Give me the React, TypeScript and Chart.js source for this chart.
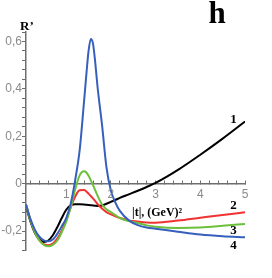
import React, { useEffect, useRef } from "react";
import { Chart, registerables } from "chart.js";

Chart.register(...registerables);

// |t| grid (GeV^2)
const T = [0.1, 0.2, 0.3, 0.4, 0.5, 0.6, 0.7, 0.8, 0.9, 1.0, 1.1, 1.2, 1.3, 1.4, 1.45, 1.5, 1.55, 1.6, 1.65, 1.7, 1.8, 1.9, 2.0, 2.1, 2.2, 2.4, 2.6, 2.8, 3.0, 3.5, 4.0, 4.5, 5.0];

// curve 1 (black)
const curve1 = [-0.095, -0.16, -0.208, -0.236, -0.246, -0.24, -0.218, -0.184, -0.145, -0.11, -0.092, -0.087, -0.087, -0.088, -0.089, -0.09, -0.091, -0.092, -0.093, -0.094, -0.092, -0.085, -0.077, -0.069, -0.06, -0.045, -0.03, -0.014, 0.003, 0.058, 0.122, 0.19, 0.262];
// curve 2 (red)
const curve2 = [-0.088, -0.155, -0.205, -0.238, -0.256, -0.26, -0.253, -0.232, -0.198, -0.155, -0.1, -0.055, -0.028, -0.027, -0.033, -0.042, -0.052, -0.063, -0.074, -0.086, -0.105, -0.12, -0.13, -0.138, -0.145, -0.155, -0.16, -0.164, -0.165, -0.156, -0.144, -0.132, -0.121];
// curve 3 (green)
const curve3 = [-0.088, -0.155, -0.205, -0.24, -0.258, -0.264, -0.258, -0.24, -0.205, -0.16, -0.1, -0.025, 0.035, 0.052, 0.047, 0.033, 0.014, -0.006, -0.028, -0.05, -0.088, -0.108, -0.12, -0.133, -0.145, -0.158, -0.166, -0.176, -0.182, -0.187, -0.185, -0.178, -0.17];
// curve 4 (blue)
const curve4 = [-0.088, -0.15, -0.195, -0.224, -0.239, -0.243, -0.236, -0.212, -0.18, -0.145, -0.085, 0.015, 0.14, 0.35, 0.46, 0.56, 0.61, 0.59, 0.51, 0.41, 0.25, 0.07, -0.03, -0.08, -0.115, -0.155, -0.175, -0.185, -0.19, -0.203, -0.215, -0.222, -0.226];

const seriesNames = ["1", "2", "3", "4"];
const seriesColors = ["#000000", "#f03232", "#6cc03c", "#3760bd"];
const curveLabelX = 4.74;
const curveLabelY = [0.27, -0.092, -0.198, -0.261];

// x-axis tick labels
const xLabelValues = [1, 2, 3, 4, 5];

const X_MIN = 0.1;
const X_MAX = 5;
const X_STEP = 0.2;
const Y_MIN = -0.28;
const Y_MAX = 0.64;
const Y_STEP = 0.04;
const Y_LABEL_STEP = 0.2;

const yTitle = "R\u2019";
const xTitle = "|t|, (GeV)\u00b2";
const panelLabel = "h";

const AXIS_COLOR = "#6e6e6e";
const TICK_LABEL_COLOR = "#8a8a8a";
const SANS = '"Liberation Sans", Arial, sans-serif';
const SERIF = '"Liberation Serif", "Times New Roman", serif';

function makeTicks(min: number, max: number, step: number, start: number) {
  const out: { value: number }[] = [];
  for (let v = start; v <= max + 1e-9; v += step) {
    if (v >= min - 1e-9) out.push({ value: Math.round(v * 1000) / 1000 });
  }
  return out;
}

const textPlugin = {
  id: "textPlugin",
  afterDraw(chart: any) {
    const { ctx, scales } = chart;
    const xs = scales.x;
    const ys = scales.y;
    ctx.save();
    // x tick labels below the y=0 axis
    ctx.fillStyle = TICK_LABEL_COLOR;
    ctx.font = `12px ${SANS}`;
    ctx.textAlign = "center";
    ctx.textBaseline = "top";
    const y0 = ys.getPixelForValue(0);
    xLabelValues.forEach((v) => {
      ctx.fillText(String(v), xs.getPixelForValue(v), y0 + 5);
    });
    ctx.fillStyle = "#000";
    ctx.textBaseline = "alphabetic";
    ctx.textAlign = "left";
    ctx.font = `bold 13px ${SERIF}`;
    ctx.fillText(yTitle, 20, 30);
    ctx.font = `bold 31px ${SERIF}`;
    ctx.textAlign = "center";
    ctx.fillText(panelLabel, 217, 23);
    ctx.font = `bold 12px ${SERIF}`;
    ctx.textAlign = "left";
    ctx.fillText(xTitle, 132, 216);
    ctx.font = `bold 13px ${SERIF}`;
    ctx.textAlign = "center";
    ctx.textBaseline = "middle";
    seriesNames.forEach((n, i) => {
      ctx.fillText(n, xs.getPixelForValue(curveLabelX), ys.getPixelForValue(curveLabelY[i]));
    });
    ctx.restore();
  },
};

export default function App() {
  const ref = useRef<HTMLCanvasElement | null>(null);
  useEffect(() => {
    if (!ref.current) return;
    const curves = [curve1, curve2, curve3, curve4];
    const order = [3, 2, 1, 0];
    const datasets = order.map((i) => ({
      label: seriesNames[i],
      data: T.map((t, k) => ({ x: t, y: curves[i][k] })),
      borderColor: seriesColors[i],
      borderWidth: 2,
      pointRadius: 0,
      fill: false,
      cubicInterpolationMode: "monotone" as const,
    }));
    const chart = new Chart(ref.current, {
      type: "line",
      data: { datasets },
      plugins: [textPlugin],
      options: {
        animation: false,
        responsive: false,
        maintainAspectRatio: false,
        layout: { padding: { left: 0, right: 27, top: 32, bottom: 28 } },
        plugins: { legend: { display: false }, tooltip: { enabled: false } },
        scales: {
          x: {
            type: "linear",
            position: { y: 0 } as any,
            min: X_MIN,
            max: X_MAX,
            afterBuildTicks: (s: any) => {
              s.ticks = makeTicks(X_MIN, X_MAX, X_STEP, 0.2);
            },
            ticks: { display: false, autoSkip: false, maxRotation: 0 },
            grid: { drawOnChartArea: false, drawTicks: true, tickLength: -4, color: AXIS_COLOR, lineWidth: 1 },
            border: { display: true, color: AXIS_COLOR, width: 1.5 },
          },
          y: {
            type: "linear",
            position: "left",
            min: Y_MIN,
            max: Y_MAX,
            afterFit: (s: any) => {
              s.width = 26;
            },
            afterBuildTicks: (s: any) => {
              s.ticks = makeTicks(Y_MIN, Y_MAX, Y_STEP, Y_MIN);
            },
            ticks: {
              autoSkip: false,
              padding: 0,
              color: TICK_LABEL_COLOR,
              font: { family: SANS, size: 12 },
              callback: (v: any) => {
                const n = Number(v);
                const r = n / Y_LABEL_STEP;
                if (Math.abs(r - Math.round(r)) > 1e-6) return "";
                if (Math.abs(n) < 1e-9) return "0";
                return n.toFixed(1).replace(".", ",");
              },
            },
            grid: { drawOnChartArea: false, drawTicks: true, tickLength: 4, color: AXIS_COLOR, lineWidth: 1 },
            border: { display: true, color: AXIS_COLOR, width: 1.5 },
          },
        },
      },
    });
    return () => chart.destroy();
  }, []);
  return (
    <div style={{ position: "absolute", left: 0, top: 0, width: 272, height: 278, background: "#fff" }}>
      <canvas ref={ref} width={272} height={278} style={{ display: "block", width: 272, height: 278 }} />
    </div>
  );
}
